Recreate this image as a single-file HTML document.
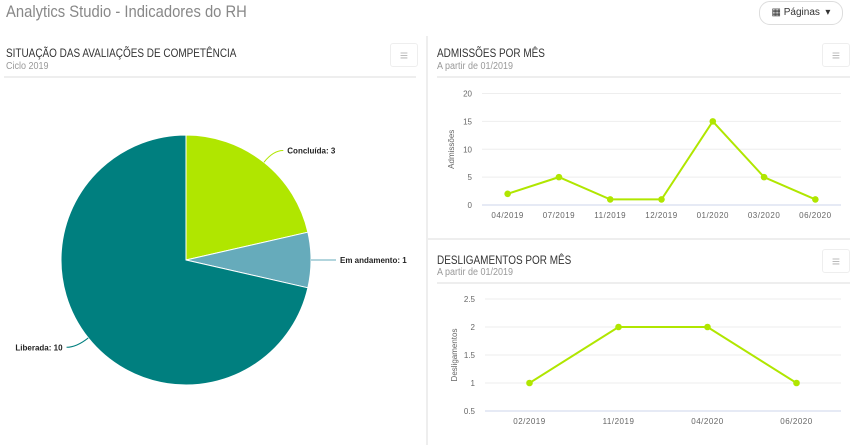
<!DOCTYPE html>
<html><head><meta charset="utf-8">
<style>
body{margin:0;width:850px;height:445px;overflow:hidden;background:#fff;font-family:"Liberation Sans",sans-serif;position:relative}
.abs{position:absolute}
.title{font-size:12px;color:#333;transform:scaleX(0.83);transform-origin:left top;white-space:nowrap}
.sub{font-size:10px;color:#999;transform:scaleX(0.9);transform-origin:left top;white-space:nowrap}
.menu{position:absolute;width:26px;height:22px;border:1px solid #eee;border-radius:3px;color:#bbb;font-size:14px;text-align:center;line-height:22px;background:#fff}
</style></head><body>
<div class="abs" style="left:6px;top:2px;font-size:17px;color:#888;transform:scaleX(0.87);transform-origin:left top;white-space:nowrap">Analytics Studio - Indicadores do RH</div>
<div class="abs" style="left:759px;top:1px;width:82px;height:22px;border:1px solid #ddd;border-radius:11px;font-size:10px;color:#333;line-height:22px;text-align:center">▦ Páginas &nbsp;▾</div>
<div class="abs" style="left:426px;top:36px;width:2px;height:409px;background:#eee"></div>
<div class="abs" style="left:428px;top:238px;width:422px;height:2px;background:#eee"></div>

<div class="abs title" style="left:6px;top:46px">SITUAÇÃO DAS AVALIAÇÕES DE COMPETÊNCIA</div>
<div class="abs sub" style="left:6px;top:61px">Ciclo 2019</div>
<div class="menu" style="left:390px;top:43px">≡</div>
<div class="abs" style="left:4px;top:76px;width:412px;height:2px;background:#eee"></div>

<div class="abs title" style="left:437px;top:46px">ADMISSÕES POR MÊS</div>
<div class="abs sub" style="left:437px;top:61px">A partir de 01/2019</div>
<div class="menu" style="left:822px;top:43px">≡</div>
<div class="abs" style="left:437px;top:76px;width:413px;height:2px;background:#eee"></div>

<div class="abs title" style="left:437px;top:253px">DESLIGAMENTOS POR MÊS</div>
<div class="abs sub" style="left:437px;top:267px">A partir de 01/2019</div>
<div class="menu" style="left:822px;top:249px">≡</div>
<div class="abs" style="left:437px;top:282px;width:413px;height:2px;background:#eee"></div>

<svg class="abs" style="left:0;top:0" width="850" height="445" id="svg"></svg>
<script>
const pieLabels=["Concluída","Em andamento","Liberada"];
const pieValues=[3,1,10];
const pieColors=["#b0e600","#66abbb","#007f7f"];
const admCats=["04/2019","07/2019","11/2019","12/2019","01/2020","03/2020","06/2020"];
const admValues=[2,5,1,1,15,5,1];
const admTicks=[0,5,10,15,20];
const desCats=["02/2019","11/2019","04/2020","06/2020"];
const desValues=[1,2,2,1];
const desTicks=[0.5,1,1.5,2,2.5];

const svg=document.getElementById('svg');const NS="http://www.w3.org/2000/svg";
function mk(t,a,txt){const e=document.createElementNS(NS,t);for(const k in a)e.setAttribute(k,a[k]);if(txt!==undefined)e.textContent=txt;svg.appendChild(e);return e;}

const cx=186,cy=260,r=125;const tot=pieValues.reduce((a,b)=>a+b,0);let ang=-Math.PI/2;
pieValues.forEach((v,i)=>{const a0=ang,a1=ang+v/tot*2*Math.PI;ang=a1;
 const large=(a1-a0)>Math.PI?1:0;
 const p=mk('path',{d:`M${cx},${cy}L${cx+r*Math.cos(a0)},${cy+r*Math.sin(a0)}A${r},${r} 0 ${large} 1 ${cx+r*Math.cos(a1)},${cy+r*Math.sin(a1)}Z`,fill:pieColors[i],stroke:'#fff','stroke-width':1});
 
 
 const m=(a0+a1)/2,c=Math.cos(m),s=Math.sin(m);
 const x1=cx+r*c,y1=cy+r*s,x2=cx+(r+15)*c,y2=cy+(r+15)*s;const right=c>=0;
 const x3=x2+(right?10:-10);
 const l=mk('path',{d:`M${x1},${y1}Q${x2},${y2} ${x3},${y2}`,fill:'none',stroke:pieColors[i],'stroke-width':1});
 
 
 const t=mk('text',{x:x3+(right?4:-4),y:y2+3,'font-size':8,'font-weight':'bold',fill:'#222','text-anchor':right?'start':'end'},pieLabels[i]+': '+pieValues[i]);
 
 
});

function line(cats,vals,ticks,x0,x1,yTop,yBot,title,prefix){
 const tmin=ticks[0],tmax=ticks[ticks.length-1];
 const Y=v=>yBot-(v-tmin)/(tmax-tmin)*(yBot-yTop);
 const bw=(x1-x0)/cats.length;const X=i=>x0+bw*(i+0.5);
 ticks.forEach(t=>{const g=mk('line',{x1:x0,x2:x1,y1:Y(t),y2:Y(t),stroke:t===tmin?'#ccd6eb':'#eee','stroke-width':1});
  
  
  const tl=mk('text',{x:x0-10,y:Y(t)+3,'font-size':8,fill:'#666','text-anchor':'end'},String(t));
  
  });
 cats.forEach((c,i)=>{const t=mk('text',{x:X(i),y:yBot+13,'font-size':8,fill:'#666','text-anchor':'middle','letter-spacing':'0.5'},c);
  
  });
 const yt=mk('text',{x:0,y:0,'font-size':8,fill:'#666','text-anchor':'middle',transform:`translate(${x0-28},${(yTop+yBot)/2}) rotate(-90)`},title);
 
 
 const pl=mk('polyline',{points:vals.map((v,i)=>X(i)+','+Y(v)).join(' '),fill:'none',stroke:'#b0e600','stroke-width':2});
 
 
 vals.forEach((v,i)=>{const d=mk('circle',{cx:X(i),cy:Y(v),r:3.3,fill:'#b0e600'});
  
  });
}
line(admCats,admValues,admTicks,482,841,93.5,205,'Admissões','admissions');
line(desCats,desValues,desTicks,485,841,299,411,'Desligamentos','dismissals');
</script>
</body></html>
